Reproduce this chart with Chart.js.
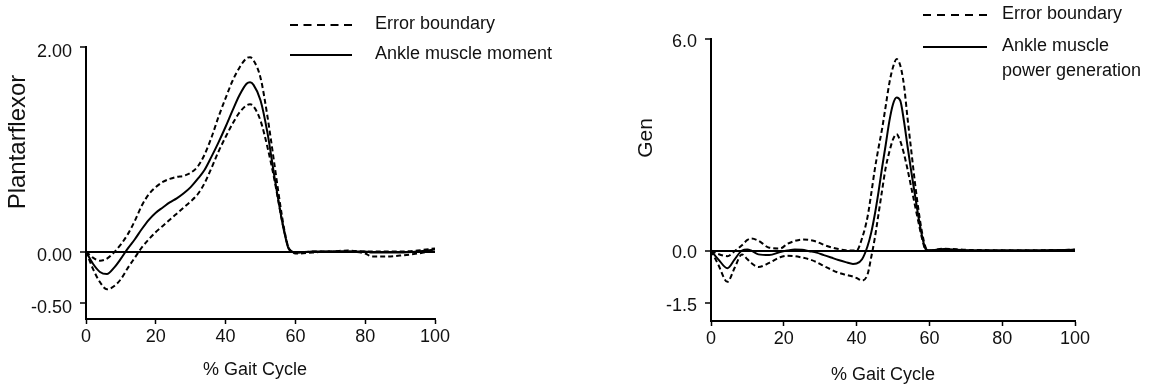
<!DOCTYPE html>
<html>
<head>
<meta charset="utf-8">
<title>Ankle moment and power</title>
<script src="https://cdn.jsdelivr.net/npm/chart.js@4.4.1/dist/chart.umd.min.js"></script>
<style>
  html, body { margin: 0; padding: 0; background: #fff; }
  .wrap { position: absolute; top: 0; height: 386px; }
  #left-wrap { left: 0; width: 580px; }
  #right-wrap { left: 580px; width: 578px; }
</style>
</head>
<body>
<div class="wrap" id="left-wrap"><canvas id="moment-chart"></canvas></div>
<div class="wrap" id="right-wrap"><canvas id="power-chart"></canvas></div>
<script>
// data

const gaitTicks = [0, 20, 40, 60, 80, 100];

// ankle muscle moment (left)
const momentX     = [0, 2, 4, 6, 8, 10, 12, 14, 16, 18, 20, 22, 24, 26, 28, 30, 32, 34, 36, 38, 40, 42, 44, 46, 47, 48, 50, 52, 54, 56, 57, 58, 59, 60, 65, 70, 75, 80, 82, 85, 90, 95, 100];
const momentMean  = [0, -0.12, -0.2, -0.22, -0.16, -0.07, 0.03, 0.12, 0.22, 0.31, 0.38, 0.43, 0.48, 0.52, 0.57, 0.63, 0.71, 0.8, 0.93, 1.07, 1.22, 1.38, 1.53, 1.64, 1.655, 1.63, 1.48, 1.16, 0.73, 0.33, 0.16, 0.03, 0, -0.01, 0, 0, 0, 0, -0.01, -0.01, -0.01, 0, 0.02];
const momentUpper = [0, -0.06, -0.09, -0.07, -0.01, 0.07, 0.17, 0.3, 0.45, 0.56, 0.63, 0.68, 0.71, 0.73, 0.74, 0.77, 0.83, 0.95, 1.12, 1.32, 1.5, 1.67, 1.8, 1.89, 1.9, 1.87, 1.7, 1.32, 0.85, 0.38, 0.18, 0.04, 0, -0.01, 0, 0, 0.01, 0, 0, 0, 0, 0.01, 0.03];
const momentLower = [0, -0.17, -0.3, -0.37, -0.34, -0.27, -0.16, -0.06, 0.04, 0.12, 0.19, 0.25, 0.31, 0.37, 0.43, 0.49, 0.56, 0.67, 0.82, 0.98, 1.12, 1.25, 1.36, 1.43, 1.44, 1.42, 1.28, 1.02, 0.7, 0.33, 0.17, 0.04, 0, -0.02, -0.01, 0, 0, -0.02, -0.05, -0.05, -0.04, -0.02, 0.01];
const momentYTicks = [-0.5, 0, 2];

// ankle muscle power generation (right)
const powerX     = [0, 2, 4.5, 6.5, 8.5, 10, 11, 13, 16, 19, 21, 23, 25, 27, 29, 31, 33, 35, 37, 39, 40, 41.5, 43, 44, 45, 46, 47, 48, 49, 50, 51, 52, 53, 54, 55, 56, 57, 58, 59, 60, 64, 70, 80, 90, 100];
const powerMean  = [0, -0.25, -0.5, -0.25, 0, 0.03, 0, -0.11, -0.13, -0.04, 0, 0.03, 0.02, -0.02, -0.06, -0.13, -0.2, -0.27, -0.33, -0.38, -0.37, -0.25, 0.12, 0.5, 1.02, 1.65, 2.35, 3.0, 3.67, 4.15, 4.34, 4.25, 3.68, 2.95, 2.25, 1.6, 0.95, 0.4, 0.03, 0, 0.04, 0.01, 0, 0, 0.02];
const powerUpper = [0, -0.1, -0.16, -0.02, 0.15, 0.3, 0.34, 0.28, 0.08, 0.06, 0.19, 0.27, 0.31, 0.3, 0.25, 0.16, 0.09, 0.04, 0.01, 0, 0, 0.35, 0.95, 1.6, 2.3, 2.9, 3.45, 4.1, 4.75, 5.2, 5.43, 5.25, 4.7, 3.75, 2.85, 1.95, 1.15, 0.5, 0.08, 0, 0.05, 0.02, 0.01, 0.01, 0.02];
const powerLower = [0, -0.4, -0.89, -0.49, -0.11, -0.25, -0.35, -0.47, -0.35, -0.19, -0.15, -0.16, -0.2, -0.25, -0.33, -0.44, -0.54, -0.63, -0.69, -0.74, -0.78, -0.85, -0.68, -0.2, 0.35, 1.02, 1.7, 2.35, 2.8, 3.15, 3.3, 3.1, 2.75, 2.3, 1.8, 1.3, 0.8, 0.33, 0.02, 0, 0.02, 0, 0, 0, 0.02];
const powerYTicks = [-1.5, 0, 6];

const FONT = '"Liberation Sans", Arial, sans-serif';

function toPoints(xs, ys) {
    return xs.map((x, i) => ({ x: x, y: ys[i] }));
}

function curve(label, xs, ys, dashed) {
    return {
        label: label,
        data: toPoints(xs, ys),
        borderColor: '#000',
        borderWidth: 2,
        borderDash: dashed ? [5, 3] : [],
        pointRadius: 0,
        fill: false,
        cubicInterpolationMode: 'monotone'
    };
}

// titles + legend drawn on the canvas
const chartText = {
    id: 'chartText',
    afterDraw(chart, args, opts) {
        const ctx = chart.ctx;
        ctx.save();
        ctx.fillStyle = '#111';
        ctx.textBaseline = 'middle';

        // y title
        ctx.save();
        ctx.translate(opts.yTitle.x, opts.yTitle.y);
        ctx.rotate(-Math.PI / 2);
        ctx.textAlign = 'center';
        ctx.font = opts.yTitle.size + 'px ' + FONT;
        ctx.fillText(opts.yTitle.text, 0, 0);
        ctx.restore();

        // x title
        ctx.textAlign = 'center';
        ctx.font = '18px ' + FONT;
        ctx.fillText(opts.xTitle.text, opts.xTitle.x, opts.xTitle.y);

        // legend
        const lg = opts.legend;
        ctx.textAlign = 'left';
        lg.items.forEach(item => {
            ctx.beginPath();
            ctx.setLineDash(item.dash);
            ctx.lineWidth = 2;
            ctx.strokeStyle = '#000';
            ctx.moveTo(lg.x0, item.y + 1);
            ctx.lineTo(lg.x1, item.y + 1);
            ctx.stroke();
            item.lines.forEach((t, i) => {
                ctx.fillText(t, lg.textX, item.y + i * 25);
            });
        });
        ctx.restore();
    }
};

function makeScales(yMin, yMax, yTicks, decimals, yWidth, xHeight, labelOffset) {
    return {
        x: {
            type: 'linear',
            min: 0,
            max: 100,
            afterBuildTicks: s => { s.ticks = gaitTicks.map(v => ({ value: v })); },
            afterFit: s => { s.height = xHeight; },
            grid: { drawOnChartArea: false, tickLength: 5, tickColor: '#000', tickWidth: 1.5 },
            border: { color: '#000', width: 2 },
            ticks: { color: '#111', font: { family: FONT, size: 18 }, padding: 2, maxRotation: 0, autoSkip: false }
        },
        y: {
            type: 'linear',
            min: yMin,
            max: yMax,
            afterBuildTicks: s => { s.ticks = yTicks.map(v => ({ value: v })); },
            afterFit: s => { s.width = yWidth; },
            grid: {
                drawOnChartArea: true,
                color: c => (c.tick && c.tick.value === 0) ? '#000' : 'rgba(0,0,0,0)',
                lineWidth: 2,
                tickLength: 6,
                tickColor: '#000',
                tickWidth: 1.5
            },
            border: { color: '#000', width: 2 },
            ticks: {
                color: '#111',
                font: { family: FONT, size: 18 },
                padding: 8,
                labelOffset: labelOffset,
                callback: v => Number(v).toFixed(decimals)
            }
        }
    };
}

// left chart

const momentCanvas = document.getElementById('moment-chart');

let momentChart = new Chart(momentCanvas, {
    type: 'line',
    data: {
        datasets: [
            curve('Error boundary', momentX, momentUpper, true),
            curve('Ankle muscle moment', momentX, momentMean, false),
            curve('Error boundary (lower)', momentX, momentLower, true)
        ]
    },
    options: {
        responsive: true,
        maintainAspectRatio: false,
        animation: false,
        layout: { padding: { top: 47, right: 145, left: 0, bottom: 0 } },
        scales: makeScales(-0.66, 2, momentYTicks, 2, 86, 67, 5),
        plugins: {
            legend: { display: false },
            tooltip: { enabled: false },
            chartText: {
                yTitle: { text: 'Plantarflexor', x: 18, y: 142, size: 24 },
                xTitle: { text: '% Gait Cycle', x: 255, y: 370 },
                legend: {
                    x0: 290, x1: 352, textX: 375,
                    items: [
                        { dash: [8, 5.5], y: 24, lines: ['Error boundary'] },
                        { dash: [], y: 54, lines: ['Ankle muscle moment'] }
                    ]
                }
            }
        }
    },
    plugins: [chartText]
});

// right chart

const powerCanvas = document.getElementById('power-chart');

let powerChart = new Chart(powerCanvas, {
    type: 'line',
    data: {
        datasets: [
            curve('Error boundary', powerX, powerUpper, true),
            curve('Ankle muscle power generation', powerX, powerMean, false),
            curve('Error boundary (lower)', powerX, powerLower, true)
        ]
    },
    options: {
        responsive: true,
        maintainAspectRatio: false,
        animation: false,
        layout: { padding: { top: 39, right: 83, left: 0, bottom: 0 } },
        scales: makeScales(-2, 6, powerYTicks, 1, 131, 65, 3),
        plugins: {
            legend: { display: false },
            tooltip: { enabled: false },
            chartText: {
                yTitle: { text: 'Gen', x: 66, y: 138, size: 21 },
                xTitle: { text: '% Gait Cycle', x: 303, y: 375 },
                legend: {
                    x0: 343, x1: 407, textX: 422,
                    items: [
                        { dash: [8, 6], y: 14, lines: ['Error boundary'] },
                        { dash: [], y: 46, lines: ['Ankle muscle', 'power generation'] }
                    ]
                }
            }
        }
    },
    plugins: [chartText]
});
</script>
</body>
</html>
